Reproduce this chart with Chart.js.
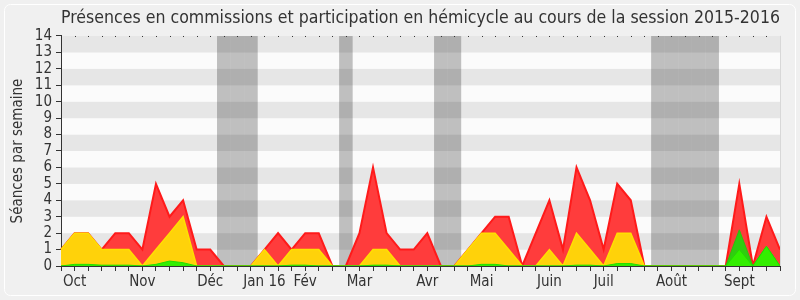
<!DOCTYPE html>
<html>
<head>
<meta charset="utf-8">
<script src="https://cdn.jsdelivr.net/npm/chart.js@4"></script>
<style>
html,body{margin:0;padding:0;background:#f0f0f0;}
#wrap{width:800px;height:300px;}
</style>
</head>
<body>
<div id="wrap"><canvas id="c" width="800" height="300"></canvas></div>
<script>
// ---- data (one value per week of the 2015-2016 session) ----
const monthLabels = ['', 'Oct', '', '', '', '', 'Nov', '', '', '', '', 'Déc', '', '', '', 'Jan 16', '', '', 'Fév', '', '', '', 'Mar', '', '', '', '', 'Avr', '', '', '', 'Mai', '', '', '', '', 'Juin', '', '', '', 'Juil', '', '', '', '', 'Août', '', '', '', '', 'Sept', '', '', ''];
const presenceCommission = [1, 2, 2, 1, 2, 2, 1, 5, 3, 4, 1, 1, 0, 0, 0, 1, 2, 1, 2, 2, 0, 0, 2, 6, 2, 1, 1, 2, 0, 0, 1, 2, 3, 3, 0, 2, 4, 1, 6, 4, 1, 5, 4, 0, 0, 0, 0, 0, 0, 0, 5, 0, 3, 1];
const interventionsCommission = [1, 2, 2, 1, 1, 1, 0, 1, 2, 3, 0, 0, 0, 0, 0, 1, 0, 1, 1, 1, 0, 0, 0, 1, 1, 0, 0, 0, 0, 0, 1, 2, 2, 1, 0, 0, 1, 0, 2, 1, 0, 2, 2, 0, 0, 0, 0, 0, 0, 0, 0, 0, 0, 0];
const presenceHemicycle = [0, 0, 0, 0, 0, 0, 0, 0, 0, 0, 0, 0, 0, 0, 0, 0, 0, 0, 0, 0, 0, 0, 0, 0, 0, 0, 0, 0, 0, 0, 0, 0, 0, 0, 0, 0, 0, 0, 0, 0, 0, 0, 0, 0, 0, 0, 0, 0, 0, 0, 2.2, 0, 1.2, 0];
const interventionsHemicycle = [0, 0.1, 0.1, 0.05, 0.05, 0.05, 0, 0.1, 0.3, 0.2, 0, 0, 0, 0, 0, 0, 0, 0.05, 0.05, 0, 0, 0, 0, 0.05, 0.05, 0, 0, 0, 0, 0, 0, 0.1, 0.1, 0, 0, 0, 0, 0, 0.05, 0.05, 0, 0.15, 0.15, 0, 0, 0, 0, 0, 0, 0, 1, 0, 1.2, 0];
const holidayWeeks = [12, 13, 14, 21, 28, 29, 44, 45, 46, 47, 48];
const yMax = 14;

const FONT = '"DejaVu Sans Condensed", "DejaVu Sans", sans-serif';
const TXT = '#333333';

const holidayBars = monthLabels.map((_, i) => holidayWeeks.includes(i) ? yMax : null);

const bgPlugin = {
  id: 'bg',
  beforeDraw(chart) {
    const { ctx, chartArea: a, scales: { y } } = chart;
    ctx.save();
    ctx.fillStyle = '#f0f0f0';
    ctx.fillRect(0, 0, chart.width, chart.height);
    ctx.strokeStyle = '#ffffff';
    ctx.lineWidth = 1;
    ctx.beginPath();
    if (ctx.roundRect) ctx.roundRect(4.5, 4.5, chart.width - 9, chart.height - 9, 6);
    else ctx.rect(4.5, 4.5, chart.width - 9, chart.height - 9);
    ctx.stroke();
    for (let k = 0; k < yMax; k++) {
      const t = y.getPixelForValue(k + 1), b = y.getPixelForValue(k);
      ctx.fillStyle = (k % 2) ? '#e6e6e6' : '#fbfbfb';
      ctx.fillRect(a.left, t, a.right - a.left, b - t);
    }
    ctx.restore();
  },
  afterDraw(chart) {
    const { ctx, chartArea: a, scales: { x } } = chart;
    ctx.save();
    ctx.fillStyle = '#333';
    for (let i = 0; i < monthLabels.length; i++) {
      const px = Math.round(x.getPixelForValue(i));
      ctx.fillRect(px, a.top, 1, 1);
    }
    ctx.fillStyle = '#d8d8d8';
    ctx.fillRect(Math.round(a.right), a.top, 1, a.bottom - a.top);
    ctx.restore();
  }
};

new Chart(document.getElementById('c'), {
  type: 'line',
  data: {
    labels: monthLabels,
    datasets: [
      {
        type: 'bar', data: holidayBars, backgroundColor: 'rgba(0,0,0,0.24)',
        borderWidth: 0, inflateAmount: 0, barPercentage: 1, categoryPercentage: 1, order: 10
      },
      {
        data: presenceCommission, borderColor: '#ff1a1a', backgroundColor: '#ff3c3c',
        borderWidth: 2, fill: 'origin', order: 4
      },
      {
        data: interventionsCommission, borderColor: '#ffe000', backgroundColor: '#ffd20a',
        borderWidth: 1.5, fill: 'origin', order: 3
      },
      {
        data: presenceHemicycle, borderColor: '#2fc010', backgroundColor: '#30cc10',
        borderWidth: 1, fill: 'origin', order: 2
      },
      {
        data: interventionsHemicycle, borderColor: '#22dd00', backgroundColor: '#33ee00',
        borderWidth: 1, fill: 'origin', order: 1
      }
    ]
  },
  options: {
    responsive: false,
    animation: false,
    elements: { line: { tension: 0 }, point: { radius: 0, hoverRadius: 0 } },
    layout: { padding: { left: 5, right: 20, top: 0, bottom: 0 } },
    plugins: {
      legend: { display: false },
      tooltip: { enabled: false },
      title: {
        display: true, fullSize: false, align: 'end',
        text: 'Présences en commissions et participation en hémicycle au cours de la session 2015-2016',
        color: TXT, font: { family: FONT, size: 18.4, weight: 'normal', lineHeight: 1.2 },
        padding: { top: 7, bottom: 6.9 }
      }
    },
    scales: {
      x: {
        type: 'category', offset: false,
        grid: { offset: false, drawOnChartArea: false, drawTicks: true, tickLength: 5, color: '#333' },
        border: { color: '#333', width: 1 },
        ticks: { autoSkip: false, maxRotation: 0, minRotation: 0, padding: 2, color: TXT, font: { family: FONT, size: 15 } },
        afterFit(s) { s.height = 34; }
      },
      y: {
        min: 0, max: yMax,
        grid: { drawOnChartArea: false, drawTicks: true, tickLength: 5, color: '#333' },
        border: { color: '#333', width: 1 },
        ticks: { stepSize: 1, autoSkip: false, padding: 4, color: TXT, font: { family: FONT, size: 15 } },
        title: { display: true, text: 'Séances par semaine', color: TXT, font: { family: FONT, size: 15 }, padding: { top: 4, bottom: 0 } },
        afterFit(s) { s.width = 56; }
      }
    }
  },
  plugins: [bgPlugin]
});
</script>
</body>
</html>
